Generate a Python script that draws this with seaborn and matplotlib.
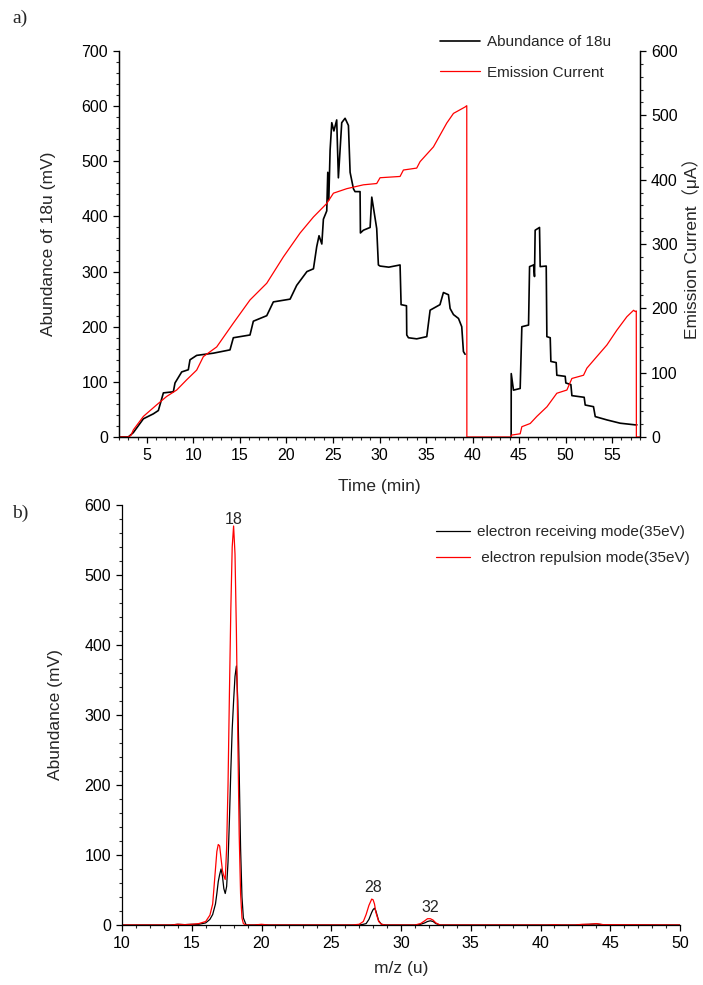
import numpy as np
import pandas as pd
import matplotlib
matplotlib.use("Agg")
import matplotlib.pyplot as plt
from matplotlib.ticker import MultipleLocator
import seaborn as sns

# ---- panel a) : abundance of 18u (left axis, mV) over time (min)
t_abund = [2.0, 3.0, 3.54, 4.62, 5.69, 6.23, 6.77, 7.84, 8.02, 8.74, 9.45, 9.63,
           10.35, 12.14, 13.93, 14.29, 16.08, 16.44, 17.88, 18.59, 20.39, 21.1,
           22.2, 22.9, 23.25, 23.5, 23.8, 23.97, 24.33, 24.44, 24.55, 24.69, 24.87,
           25.1, 25.4, 25.58, 25.94, 26.3, 26.66, 26.84, 27.2, 27.37, 27.91, 27.95,
           28.27, 28.99, 29.17, 29.70, 29.88, 30.06, 31.0, 32.21, 32.32, 32.9,
           32.93, 33.11, 34.0, 35.08, 35.44, 36.5, 36.87, 37.41, 37.59, 37.95,
           38.49, 38.84, 39.02, 39.2]
v_abund = [0, 0, 8, 33, 42, 48, 80, 82, 98, 118, 122, 140,
           148, 152, 158, 180, 185, 210, 220, 245, 250, 275,
           300, 305, 345, 365, 350, 395, 410, 480, 430, 520, 570,
           555, 575, 470, 570, 578, 565, 480, 450, 445, 445, 370,
           375, 380, 435, 378, 312, 310, 308, 312, 240, 238,
           185, 180, 178, 182, 230, 240, 262, 258, 233, 222,
           215, 200, 155, 150]

t_abund2 = [44.15, 44.16, 44.4, 45.12, 45.3, 46.02, 46.13, 46.56, 46.66, 46.73,
            47.2, 47.27, 47.92, 47.99, 48.35, 48.42, 48.99, 49.06, 49.96, 50.03,
            50.57, 50.68, 52.0, 52.11, 53.0, 53.19, 54.44, 55.87, 57.49, 57.67]
v_abund2 = [0, 115, 85, 88, 200, 203, 309, 312, 291, 375,
            380, 309, 310, 182, 180, 137, 135, 112, 110, 98,
            95, 75, 72, 58, 55, 37, 31, 25, 22, 22]

# emission current (right axis, uA)
t_emis = [2.0, 3.0, 3.3, 3.54, 4.62, 6.05, 7.12, 8.2, 9.28, 10.35, 11.07, 12.5,
          14.29, 16.08, 17.88, 19.67, 21.46, 22.9, 24.33, 25.05, 26.48, 28.27,
          29.70, 30.06, 32.21, 32.57, 34.0, 34.36, 35.8, 37.23, 37.95, 39.2,
          39.38, 39.39, 44.15, 44.2, 45.12, 45.3, 46.2, 46.91, 48.0, 49.06,
          50.14, 50.68, 51.93, 52.29, 53.36, 54.44, 55.51, 56.59, 57.31, 57.49,
          57.6, 57.61, 58.0]
v_emis = [0, 0, 3, 11, 32, 50, 63, 73, 89, 104, 125, 140,
          177, 213, 239, 280, 317, 342, 363, 379, 386, 392,
          394, 403, 405, 415, 418, 428, 451, 488, 503, 513,
          515, 0, 0, 3, 5, 16, 21, 32, 47, 68,
          73, 91, 96, 107, 125, 143, 166, 187, 197, 195,
          196, 0, 0]

# ---- panel b) : mass spectrum
mz = [10, 13.5, 14.0, 14.5, 15.0, 15.5, 16.0, 16.3, 16.5, 16.7, 16.8, 16.9,
      17.0, 17.1, 17.2, 17.3, 17.4, 17.5, 17.6, 17.7, 17.8, 17.9, 18.0, 18.1,
      18.2, 18.3, 18.4, 18.5, 18.6, 18.7, 18.9, 19.5, 20.0, 20.5, 26.5, 27.0,
      27.3, 27.5, 27.7, 27.9, 28.0, 28.1, 28.2, 28.4, 28.6, 28.9, 31.0, 31.4,
      31.7, 31.9, 32.1, 32.3, 32.5, 32.8, 40.5, 41.0, 41.5, 42.5, 43.0, 43.5,
      44.0, 44.5, 50]
receiving = [0, 0, 1, 0.5, 1, 1, 3, 8, 15, 30, 45, 62,
             72, 80, 70, 52, 45, 55, 90, 150, 220, 280, 320, 355,
             370, 320, 220, 110, 40, 10, 0, 0, 0.5, 0, 0, 0,
             1, 2, 8, 18, 22, 24, 20, 6, 1, 0, 0, 1,
             3, 5, 6, 5, 2, 0, 0, 0.3, 0, 0, 0.5, 1,
             1.5, 0.3, 0]
repulsion = [0, 0, 1, 0.5, 1, 2, 5, 14, 30, 80, 105, 115,
             113, 95, 78, 70, 65, 110, 200, 330, 450, 540, 570, 530,
             420, 270, 130, 45, 10, 2, 0, 0, 1, 0, 0, 1,
             5, 15, 28, 37, 36, 30, 18, 5, 1, 0, 0, 2,
             6, 9, 9, 7, 3, 0, 0, 0.5, 0, 0, 1, 1,
             2, 0.5, 0]
peak_labels = ["18", "28", "32"]
peak_pos = [(18.0, 568), (28.0, 43), (32.1, 15)]

sns.set_style("ticks")
plt.rcParams['font.family'] = ['Liberation Sans', 'Noto Sans CJK SC', 'DejaVu Sans']
plt.rcParams['font.size'] = 11.5

LABEL_FS = 12.5

def style_axis(ax, maj_x, min_x, maj_y, min_y):
   ax.xaxis.set_major_locator(MultipleLocator(maj_x))
   ax.xaxis.set_minor_locator(MultipleLocator(min_x))
   ax.yaxis.set_major_locator(MultipleLocator(maj_y))
   ax.yaxis.set_minor_locator(MultipleLocator(min_y))
   ax.tick_params(which='major', length=4.5, width=0.9, direction='out', labelsize=11.5, colors='black')
   ax.tick_params(which='minor', length=2.3, width=0.8, direction='out')
   for s in ax.spines.values():
      s.set_linewidth(0.9)
      s.set_color('black')

fig = plt.figure(figsize=(7.03, 9.85), dpi=100)

# panel a
ax1 = fig.add_axes([119/703, 1-437/985, 521/703, 386/985])
ax2 = ax1.twinx()
df1 = pd.DataFrame({'t': t_abund, 'v': v_abund})
df1b = pd.DataFrame({'t': t_abund2, 'v': v_abund2})
dfe = pd.DataFrame({'t': t_emis, 'v': v_emis})
sns.lineplot(data=df1, x='t', y='v', ax=ax1, color='black', lw=1.2, sort=False, estimator=None,
             errorbar=None, label='Abundance of 18u', legend=False)
sns.lineplot(data=df1b, x='t', y='v', ax=ax1, color='black', lw=1.2, sort=False, estimator=None,
             errorbar=None, legend=False)
sns.lineplot(data=dfe, x='t', y='v', ax=ax2, color='red', lw=0.9, sort=False, estimator=None,
             errorbar=None, label='Emission Current', legend=False)
ax1.set_xlim(2, 58)
ax1.set_ylim(0, 700)
ax2.set_ylim(0, 600)
style_axis(ax1, 5, 1, 100, 20)
style_axis(ax2, 5, 1, 100, 20)
ax1.spines['top'].set_visible(False)
ax2.spines['top'].set_visible(False)
ax1.set_xlabel('Time (min)', fontsize=LABEL_FS)
ax1.set_ylabel('Abundance of 18u (mV)', fontsize=LABEL_FS)
ax2.set_ylabel('Emission Current（μA）', fontsize=LABEL_FS)
ax1.xaxis.set_label_coords(0.5, -0.108)
ax1.yaxis.set_label_coords(-0.121, 0.5)
ax2.yaxis.set_label_coords(1.081, 0.5)

h1, l1 = ax1.get_legend_handles_labels()
h2, l2 = ax2.get_legend_handles_labels()
fig.legend(h1 + h2, l1 + l2, loc='upper left', bbox_to_anchor=(440/703, 1-35/985),
           frameon=False, fontsize=11, handlelength=2.6, handletextpad=0.5,
           labelspacing=1.1, borderpad=0, borderaxespad=0)

# panel b
ax3 = fig.add_axes([122/703, 1-925/985, 558/703, 420/985])
dfs = pd.DataFrame({'mz': mz, 'receiving': receiving, 'repulsion': repulsion})
sns.lineplot(data=dfs, x='mz', y='receiving', ax=ax3, color='black', lw=0.9, sort=False,
             estimator=None, errorbar=None, label='electron receiving mode(35eV)')
sns.lineplot(data=dfs, x='mz', y='repulsion', ax=ax3, color='red', lw=0.9, sort=False,
             estimator=None, errorbar=None, label=' electron repulsion mode(35eV)')
ax3.set_xlim(10, 50)
ax3.set_ylim(0, 600)
style_axis(ax3, 5, 1, 100, 20)
sns.despine(ax=ax3)
ax3.set_xlabel('m/z (u)', fontsize=LABEL_FS)
ax3.set_ylabel('Abundance (mV)', fontsize=LABEL_FS)
ax3.xaxis.set_label_coords(0.5, -0.085)
ax3.yaxis.set_label_coords(-0.105, 0.5)
for lab, (x, y) in zip(peak_labels, peak_pos):
   ax3.text(x, y, lab, ha='center', va='bottom', fontsize=11.5)
ax3.legend(loc='upper left', bbox_to_anchor=(436/703, 1-525/985), bbox_transform=fig.transFigure,
           frameon=False, fontsize=11, handlelength=2.2, handletextpad=0.5,
           labelspacing=0.8, borderpad=0, borderaxespad=0)

fig.text(12/703, 1-18/985, 'a)', family='Liberation Serif', fontsize=14, va='center')
fig.text(12/703, 1-513/985, 'b)', family='Liberation Serif', fontsize=14, va='center')

fig.savefig('out.png', dpi=100)
